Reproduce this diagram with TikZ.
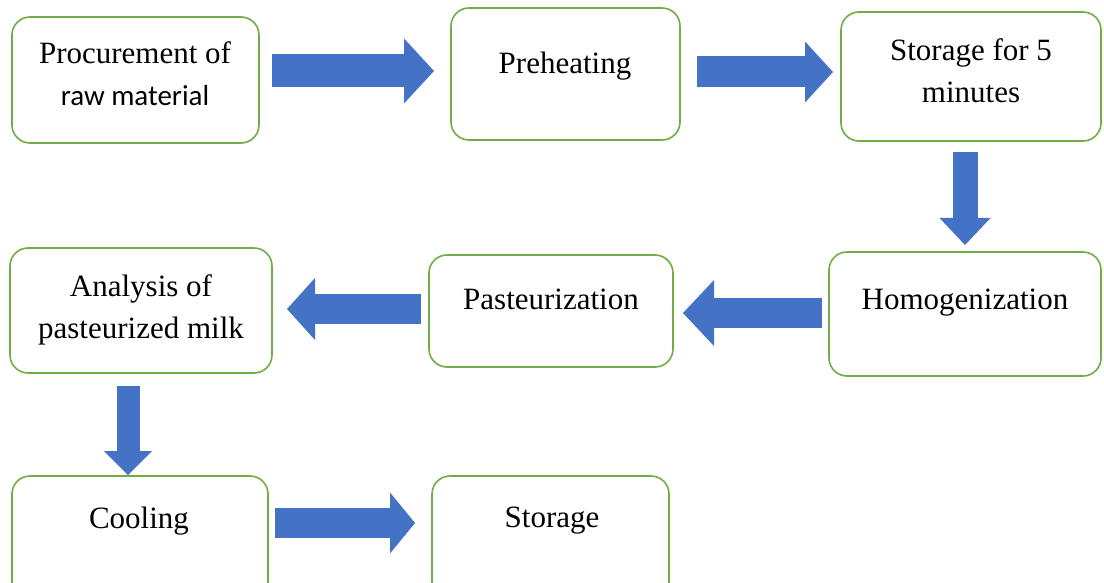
\documentclass[tikz,border=0pt]{standalone}
\usepackage{fontspec}
\setmainfont{Liberation Serif}
\newfontfamily\calibri{Carlito}
\usetikzlibrary{arrows.meta}
\definecolor{boxgreen}{HTML}{70AD47}
\definecolor{arrowblue}{HTML}{4472C4}
\tikzset{stage/.style={draw=boxgreen, line width=0.8pt, rounded corners=9pt, inner sep=0pt, outer sep=0pt},
         txt/.style={font=\fontsize{15.5}{21}\selectfont, align=center, inner sep=0pt},
         flow/.style n args={3}{arrowblue, line width=#1, -{Triangle[length=#3, width=#2, line width=0pt]}}}

\begin{document}
\begin{tikzpicture}[x=0.5pt, y=-0.5pt]
         \useasboundingbox (0,0) rectangle (1104,583);
         % boxes
         \node[stage, minimum width=123.5pt, minimum height=63pt] (proc) at (135.5,80) {};
         \node[stage, minimum width=114.5pt, minimum height=66pt] (preh) at (565.5,74) {};
         \node[stage, minimum width=130pt, minimum height=64.5pt] (stor5) at (971,76.5) {};
         \node[stage, minimum width=136pt, minimum height=62pt] (homo) at (965,314) {};
         \node[stage, minimum width=122pt, minimum height=56pt] (past) at (551,311) {};
         \node[stage, minimum width=131pt, minimum height=62.5pt] (anal) at (141,310.5) {};
         \node[stage, minimum width=128pt, minimum height=62pt] (cool) at (140,538) {};
         \node[stage, minimum width=118.5pt, minimum height=62pt] (stor) at (550.5,538) {};
         % texts
         \node[txt] (proc-t) at (135,74) {Procurement of\\{\calibri\fontsize{14.5}{21}\selectfont raw material}};
         \node[txt] (preh-t) at (565,66) {Preheating};
         \node[txt] (stor5-t) at (971,71) {Storage for 5\\minutes};
         \node[txt] (homo-t) at (965,303) {Homogenization};
         \node[txt] (past-t) at (551,299) {Pasteurization};
         \node[txt] (anal-t) at (141,310) {Analysis of\\pasteurized milk};
         \node[txt] (cool-t) at (139,521) {Cooling};
         \node[txt] (stor-t) at (552,521) {Storage};
         % arrows
         \coordinate (a1s) at (272,71);  \coordinate (a1e) at (434,71);
         \coordinate (a2s) at (697,72);  \coordinate (a2e) at (833,72);
         \coordinate (a3s) at (965,152); \coordinate (a3e) at (965,245);
         \coordinate (a4s) at (822,313); \coordinate (a4e) at (683,313);
         \coordinate (a5s) at (421,309); \coordinate (a5e) at (287,309);
         \coordinate (a6s) at (128,386); \coordinate (a6e) at (128,475);
         \coordinate (a7s) at (275,523); \coordinate (a7e) at (415,523);
         \draw[flow={16.5pt}{32.5pt}{15pt}] (a1s) -- (a1e);
         \draw[flow={15.5pt}{30.5pt}{14pt}] (a2s) -- (a2e);
         \draw[flow={12.5pt}{25.5pt}{13.5pt}] (a3s) -- (a3e);
         \draw[flow={15pt}{33pt}{15.5pt}] (a4s) -- (a4e);
         \draw[flow={15pt}{31pt}{14pt}] (a5s) -- (a5e);
         \draw[flow={11.5pt}{24pt}{12pt}] (a6s) -- (a6e);
         \draw[flow={15pt}{30.5pt}{12.5pt}] (a7s) -- (a7e);
      \end{tikzpicture}
\end{document}
